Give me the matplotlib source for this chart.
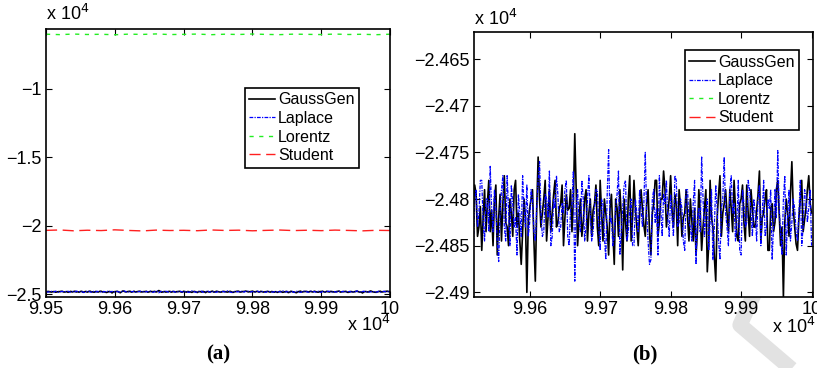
import numpy as np
from matplotlib import pyplot as plt
from matplotlib.lines import Line2D

plt.rcParams['font.family'] = ['Liberation Sans', 'DejaVu Sans']

# donnees, pas de 2 en x a partir de 99500
gaussgen = [-24820, -24800, -24795, -24825, -24840, -24815, -24805, -24850, -24830, -24812,
            -24810, -24785, -24795, -24840, -24830, -24808, -24855, -24820, -24790, -24835,
            -24805, -24780, -24835, -24812, -24850, -24800, -24785, -24860, -24820, -24795,
            -24845, -24805, -24775, -24825, -24830, -24850, -24800, -24815, -24840, -24790,
            -24780, -24830, -24815, -24845, -24870, -24835, -24800, -24820, -24900, -24825,
            -24810, -24800, -24790, -24845, -24888, -24810, -24755, -24800, -24830, -24815,
            -24800, -24780, -24845, -24820, -24790, -24835, -24815, -24795, -24780, -24830,
            -24825, -24810, -24805, -24785, -24850, -24820, -24795, -24812, -24810, -24790,
            -24835, -24800, -24730, -24790, -24850, -24822, -24800, -24840, -24825, -24800,
            -24790, -24845, -24815, -24800, -24840, -24812, -24805, -24785, -24830, -24850,
            -24780, -24815, -24845, -24800, -24815, -24830, -24860, -24810, -24795, -24835,
            -24870, -24800, -24810, -24840, -24790, -24818, -24876, -24800, -24825, -24845,
            -24800, -24775, -24845, -24820, -24780, -24810, -24830, -24850, -24815, -24790,
            -24810, -24828, -24840, -24805, -24790, -24835, -24860, -24815, -24805, -24780,
            -24780, -24840, -24825, -24800, -24800, -24770, -24790, -24830, -24815, -24800,
            -24775, -24812, -24830, -24795, -24805, -24850, -24790, -24808, -24840, -24820,
            -24815, -24790, -24820, -24845, -24800, -24822, -24845, -24810, -24860, -24835,
            -24790, -24815, -24855, -24830, -24810, -24790, -24878, -24850, -24780, -24820,
            -24830, -24862, -24888, -24820, -24795, -24775, -24840, -24815, -24805, -24790,
            -24815, -24835, -24790, -24810, -24835, -24780, -24810, -24840, -24845, -24805,
            -24800, -24785, -24825, -24845, -24785, -24815, -24840, -24790, -24810, -24830,
            -24830, -24812, -24795, -24770, -24845, -24820, -24815, -24800, -24790, -24855,
            -24855, -24810, -24805, -24835, -24825, -24790, -24780, -24815, -24850, -24830,
            -24905, -24825, -24800, -24815, -24840, -24795, -24760, -24810, -24830, -24848,
            -24855, -24820, -24800, -24780, -24835, -24822, -24810, -24790, -24775, -24805,
            -24815]

laplace = [-24805, -24840, -24835, -24790, -24790, -24820, -24825, -24770, -24815, -24850,
           -24860, -24800, -24790, -24830, -24815, -24780, -24780, -24825, -24845, -24800,
           -24800, -24835, -24765, -24810, -24835, -24790, -24810, -24845, -24867, -24815,
           -24790, -24775, -24830, -24845, -24775, -24810, -24850, -24785, -24805, -24830,
           -24820, -24860, -24795, -24815, -24840, -24775, -24810, -24830, -24785, -24840,
           -24825, -24790, -24800, -24835, -24845, -24810, -24780, -24760, -24815, -24840,
           -24835, -24795, -24800, -24820, -24770, -24850, -24840, -24800, -24810, -24775,
           -24795, -24835, -24830, -24805, -24815, -24790, -24780, -24840, -24850, -24812,
           -24805, -24770, -24888, -24810, -24790, -24825, -24835, -24780, -24800, -24845,
           -24830, -24800, -24775, -24815, -24845, -24835, -24810, -24790, -24790, -24830,
           -24855, -24800, -24805, -24840, -24865, -24795, -24747, -24825, -24820, -24850,
           -24840, -24810, -24795, -24770, -24860, -24835, -24810, -24785, -24780, -24845,
           -24835, -24810, -24800, -24850, -24850, -24800, -24815, -24835, -24790, -24812,
           -24830, -24805, -24750, -24815, -24845, -24870, -24865, -24800, -24790, -24825,
           -24810, -24860, -24775, -24810, -24840, -24795, -24805, -24780, -24820, -24840,
           -24795, -24820, -24840, -24775, -24780, -24830, -24825, -24800, -24810, -24845,
           -24855, -24790, -24790, -24825, -24830, -24845, -24805, -24780, -24870, -24820,
           -24810, -24835, -24755, -24800, -24840, -24815, -24800, -24855, -24825, -24790,
           -24865, -24830, -24785, -24810, -24845, -24865, -24810, -24800, -24755, -24815,
           -24830, -24850, -24790, -24775, -24815, -24805, -24845, -24825, -24780, -24855,
           -24860, -24790, -24805, -24830, -24825, -24780, -24790, -24815, -24840, -24800,
           -24815, -24845, -24800, -24785, -24850, -24815, -24780, -24840, -24830, -24800,
           -24810, -24790, -24865, -24830, -24790, -24820, -24748, -24810, -24835, -24860,
           -24800, -24775, -24860, -24820, -24790, -24845, -24825, -24800, -24810, -24835,
           -24845, -24815, -24780, -24850, -24830, -24790, -24795, -24825, -24810, -24790,
           -24850]

lorentz = [-6030, -6060, -6020, -6050, -6035, -6070, -6025, -6045, -6010, -6055, -6040, -6020, -6065,
           -6030, -6050, -6015, -6045, -6060, -6025, -6040, -6055, -6020, -6050, -6035, -6065, -6030]
student = [-20340, -20310, -20370, -20330, -20355, -20300, -20345, -20380, -20320, -20350, -20335, -20365, -20310,
           -20345, -20325, -20370, -20340, -20315, -20355, -20330, -20360, -20320, -20345, -20375, -20335, -20350]

x_gl = 99500 + 2*np.arange(len(gaussgen))
x_ls = 99500 + 20*np.arange(len(lorentz))

xt_a = [99500, 99600, 99700, 99800, 99900, 100000]
xl_a = ['9.95', '9.96', '9.97', '9.98', '9.99', '10']
yt_a = [-25000, -20000, -15000, -10000]
yl_a = ['\u22122.5', '\u22122', '\u22121.5', '\u22121']
xt_b = [99600, 99700, 99800, 99900, 100000]
xl_b = ['9.96', '9.97', '9.98', '9.99', '10']
yt_b = [-24900, -24850, -24800, -24750, -24700, -24650]
yl_b = ['\u22122.49', '\u22122.485', '\u22122.48', '\u22122.475', '\u22122.47', '\u22122.465']

W, H = 817, 368
fig = plt.figure(figsize=(W/100, H/100), dpi=100)

def px(l, t, r, b):
    return [l/W, 1 - b/H, (r-l)/W, (b-t)/H]

ax1 = fig.add_axes(px(46, 29, 390, 297))
ax2 = fig.add_axes(px(474, 32, 813, 297))

fs = 13

def trace(ax):
    ax.plot(x_gl, gaussgen, color='k', lw=1.2, ls='-', label='GaussGen')
    ax.plot(x_gl, laplace, color='#0000ff', lw=0.9, ls=(0, (3, 1, 1, 1)), label='Laplace')
    ax.plot(x_ls, lorentz, color='#22ee22', lw=1.0, ls=(0, (3, 4)), label='Lorentz')
    ax.plot(x_ls, student, color='#ff2020', lw=1.0, ls=(0, (8, 4)), label='Student')

for ax in (ax1, ax2):
    trace(ax)
    ax.tick_params(direction='in', top=True, right=True, labelsize=fs, length=4, width=0.8, pad=3)
    for s in ax.spines.values():
        s.set_linewidth(1.2)

ax1.set_xlim(99500, 100000)
ax1.set_ylim(-25200, -5650)
ax1.set_xticks(xt_a, xl_a)
ax1.set_yticks(yt_a, yl_a)

ax2.set_xlim(99521, 100002)
ax2.set_ylim(-24905, -24621)
ax2.set_xticks(xt_b, xl_b)
ax2.set_yticks(yt_b, yl_b)

opts = dict(loc='upper right', fontsize=11.5, fancybox=False, edgecolor='k', framealpha=1,
            handlelength=1.6, borderpad=0.3, labelspacing=0.22, handletextpad=0.2, borderaxespad=0)
lg1 = ax1.legend(bbox_to_anchor=(0.911, 0.781), **opts)
lg2 = ax2.legend(bbox_to_anchor=(0.96, 0.932), **opts)
for lg in (lg1, lg2):
    lg.get_frame().set_linewidth(1.2)

# textes "x 10^4"
fig.text(46/W, 1 - 20/H, 'x 10$^4$', fontsize=fs, ha='left', va='baseline')
fig.text(390/W, 1 - 331/H, 'x 10$^4$', fontsize=fs, ha='right', va='baseline')
fig.text(474/W, 1 - 25/H, 'x 10$^4$', fontsize=fs, ha='left', va='baseline')
fig.text(815/W, 1 - 333/H, 'x 10$^4$', fontsize=fs, ha='right', va='baseline')

fig.text(218/W, 1 - 354/H, '(a)', fontsize=15, fontweight='bold', family='Liberation Serif',
         ha='center', va='center')
fig.text(645/W, 1 - 354/H, '(b)', fontsize=15, fontweight='bold', family='Liberation Serif',
         ha='center', va='center')

# marque grise en bas a droite
fig.add_artist(Line2D([755/W, 740/W, 795/W], [1 - 292/H, 1 - 325/H, 1 - 372/H],
                      color='#e2e2e2', lw=11, solid_capstyle='butt', zorder=-1))

fig.savefig('out.png', dpi=100)
